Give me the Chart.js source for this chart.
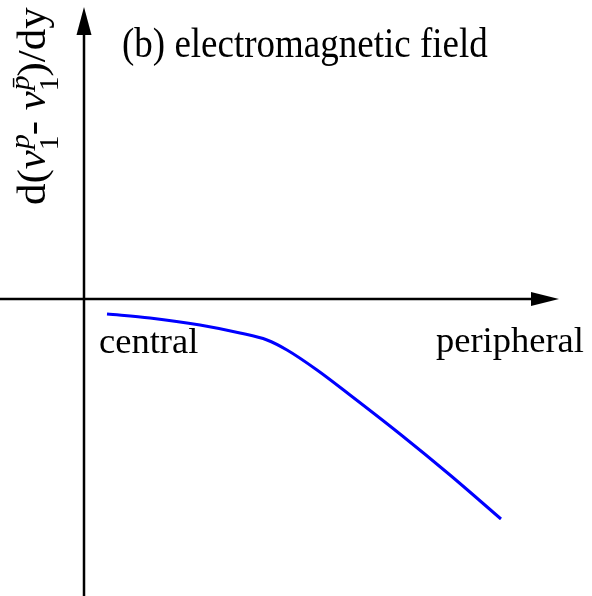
<!DOCTYPE html>
<html>
<head>
<meta charset="utf-8">
<script src="https://cdn.jsdelivr.net/npm/chart.js@4"></script>
<style>
  html, body { margin: 0; padding: 0; background: #fff; }
  #wrap { width: 592px; height: 596px; }
</style>
</head>
<body>
<div id="wrap"><canvas id="myChart" width="592" height="596"></canvas></div>
<script>
// schematic curve, centrality on x, slope difference on y (arbitrary units)
var centrality = [0.23, 0.66, 1.16, 1.56, 1.83, 2.03, 2.33, 2.66, 3.16, 3.66, 4.17];
var slopeDiff  = [-0.15, -0.19, -0.26, -0.34, -0.41, -0.51, -0.71, -0.96, -1.35, -1.76, -2.20];

var xRange = [-0.84, 5.08];
var yRange = [-2.97, 2.99];
var xAxisEnd = 4.75;   // arrow tip of the x axis
var yAxisEnd = 2.92;   // arrow tip of the y axis

var titleText = '(b) electromagnetic field';
var leftLabel = 'central';
var rightLabel = 'peripheral';

var serif = '"Liberation Serif", "Times New Roman", serif';

var points = centrality.map(function(c, i) {
    return { x: c, y: slopeDiff[i] };
});

function arrowHead(ctx, x, y, dir) {
    ctx.beginPath();
    if (dir === 'up') {
        ctx.moveTo(x, y);
        ctx.lineTo(x - 7.5, y + 28);
        ctx.lineTo(x + 7.5, y + 28);
    } else {
        ctx.moveTo(x, y);
        ctx.lineTo(x - 28, y - 7);
        ctx.lineTo(x - 28, y + 7);
    }
    ctx.closePath();
    ctx.fill();
}

// draws a run of text pieces along the baseline, returns the advance
function drawPieces(ctx, pieces, x) {
    pieces.forEach(function(p) {
        if (p.stack) {
            ctx.font = 'italic 27px ' + serif;
            var w1 = ctx.measureText(p.sup).width;
            ctx.fillText(p.sup, x + 1, -16);
            ctx.font = '27px ' + serif;
            var w2 = ctx.measureText(p.sub).width;
            ctx.fillText(p.sub, x, 13);
            x += Math.max(w1, w2);
        } else {
            ctx.font = (p.italic ? 'italic ' : '') + '39px ' + serif;
            ctx.fillText(p.text, x, 0);
            x += ctx.measureText(p.text).width;
        }
    });
    return x;
}

var axesPlugin = {
    id: 'axesPlugin',
    beforeDatasetsDraw: function(chart) {
        var ctx = chart.ctx;
        var xs = chart.scales.x, ys = chart.scales.y;
        var ox = xs.getPixelForValue(0);
        var oy = ys.getPixelForValue(0);
        ctx.save();
        ctx.strokeStyle = '#000';
        ctx.fillStyle = '#000';
        ctx.lineWidth = 2.5;

        // x axis
        var xEnd = xs.getPixelForValue(xAxisEnd);
        ctx.beginPath();
        ctx.moveTo(xs.getPixelForValue(xRange[0]), oy);
        ctx.lineTo(xEnd - 20, oy);
        ctx.stroke();
        arrowHead(ctx, xEnd, oy, 'right');

        // y axis
        var yEnd = ys.getPixelForValue(yAxisEnd);
        ctx.beginPath();
        ctx.moveTo(ox, ys.getPixelForValue(yRange[0]));
        ctx.lineTo(ox, yEnd + 20);
        ctx.stroke();
        arrowHead(ctx, ox, yEnd, 'up');

        // texts
        ctx.textBaseline = 'alphabetic';
        ctx.textAlign = 'left';
        ctx.save();
        ctx.font = '37px ' + serif;
        ctx.translate(ox + 38, 57);
        ctx.scale(1, 1.15);
        ctx.fillText(titleText, 0, 0);
        ctx.restore();
        ctx.font = '36.5px ' + serif;
        ctx.fillText(leftLabel, ox + 15, oy + 54);
        ctx.fillText(rightLabel, ox + 352, oy + 53);

        // rotated y label: d(v1^p - v1^pbar)/dy
        ctx.save();
        ctx.translate(45, 205);
        ctx.rotate(-Math.PI / 2);
        ctx.scale(1.1, 1);
        drawPieces(ctx, [
            { text: 'd(' },
            { text: 'v', italic: true },
            { stack: true, sup: 'p', sub: '1' },
            { text: '- ' },
            { text: 'v', italic: true },
            { stack: true, sup: 'p\u0304', sub: '1' },
            { text: ')/dy' }
        ], 0);
        ctx.restore();

        ctx.restore();
    }
};

var ctx = document.getElementById('myChart').getContext('2d');
new Chart(ctx, {
    type: 'line',
    data: {
        datasets: [{
            data: points,
            borderColor: '#0000ff',
            borderWidth: 3,
            pointRadius: 0,
            fill: false,
            cubicInterpolationMode: 'monotone'
        }]
    },
    options: {
        responsive: false,
        animation: false,
        layout: { padding: 0 },
        plugins: {
            legend: { display: false },
            tooltip: { enabled: false }
        },
        scales: {
            x: { type: 'linear', min: xRange[0], max: xRange[1], display: false },
            y: { type: 'linear', min: yRange[0], max: yRange[1], display: false }
        }
    },
    plugins: [axesPlugin]
});
</script>
</body>
</html>
